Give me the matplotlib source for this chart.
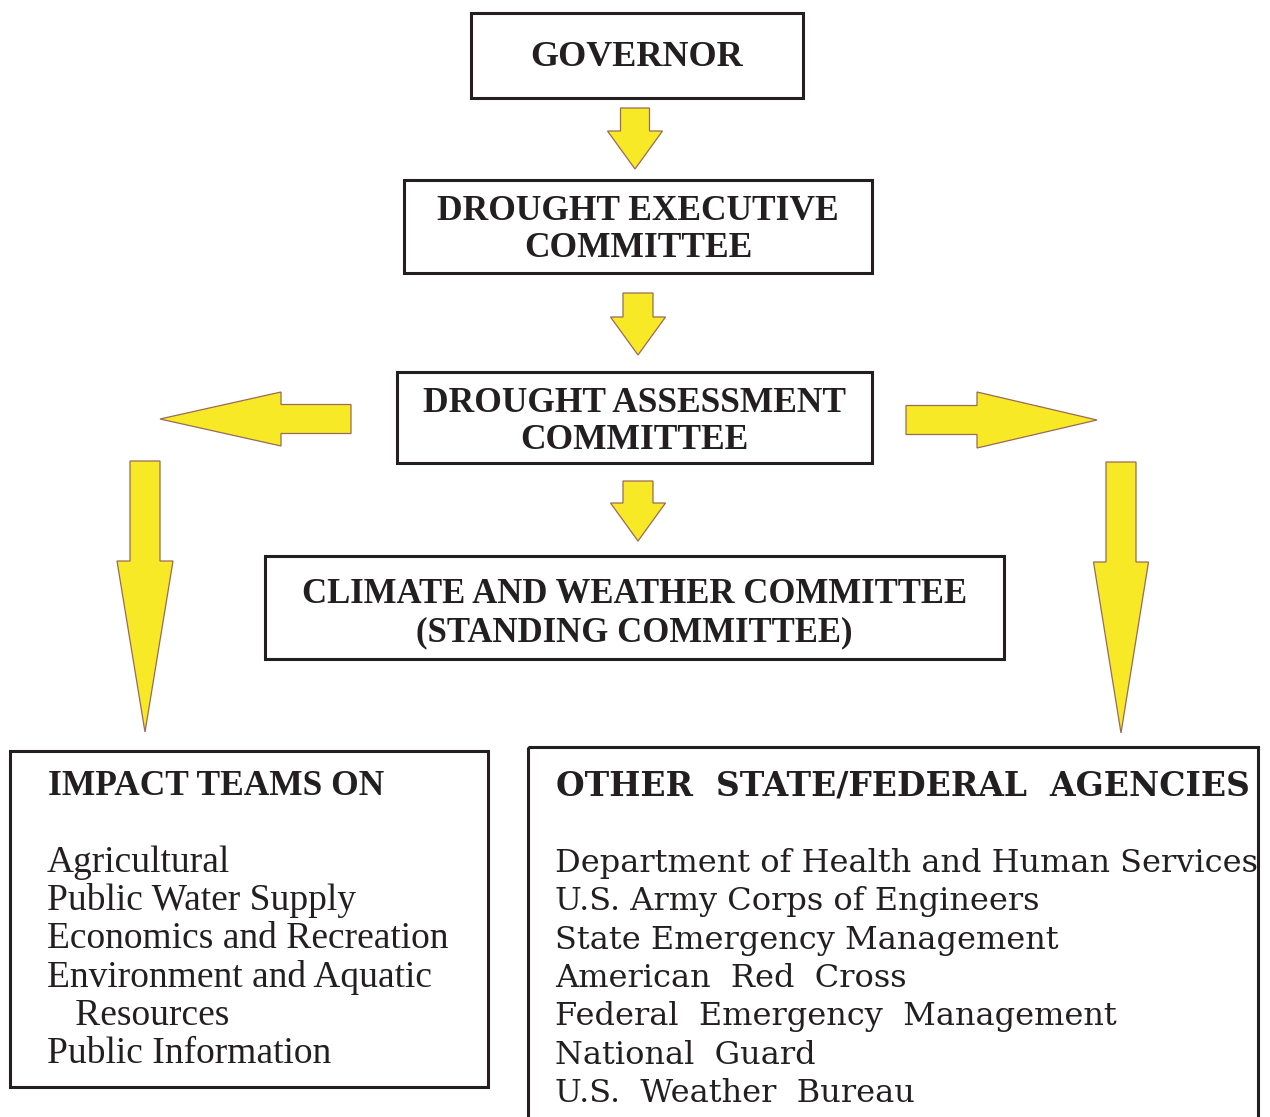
import matplotlib
matplotlib.use('Agg')
import matplotlib.pyplot as plt
from matplotlib.patches import Rectangle, Polygon

# chart content
box_titles = ['GOVERNOR',
              'DROUGHT EXECUTIVE\nCOMMITTEE',
              'DROUGHT ASSESSMENT\nCOMMITTEE',
              'CLIMATE AND WEATHER COMMITTEE\n(STANDING COMMITTEE)']
impact_title = 'IMPACT TEAMS ON'
impact_items = ['Agricultural', 'Public Water Supply', 'Economics and Recreation',
                'Environment and Aquatic', '   Resources', 'Public Information']
agency_title = 'OTHER  STATE/FEDERAL  AGENCIES'
agency_items = ['Department of Health and Human Services', 'U.S. Army Corps of Engineers',
                'State Emergency Management', 'American  Red  Cross',
                'Federal  Emergency  Management', 'National  Guard', 'U.S.  Weather  Bureau']

W, H = 1270, 1117
fig = plt.figure(figsize=(W / 100, H / 100), dpi=100)
ax = fig.add_axes([0, 0, 1, 1])
ax.set_xlim(0, W)
ax.set_ylim(H, 0)
ax.axis('off')

ink = '#231f20'
yellow = '#f7e926'
edge = '#9a6a58'
bold = dict(family=['Liberation Serif', 'DejaVu Serif'], weight='bold', color=ink)
plain = dict(family=['Liberation Serif', 'DejaVu Serif'], color=ink)

# boxes: (x0, y0, x1, y1), baselines of the lines
boxes = [(471, 13, 803, 98), (404, 180, 872, 273), (397, 372, 872, 463), (265, 556, 1004, 659)]
baselines = [[66], [220, 257], [412, 449], [603, 641]]
sizes = [26, 25.5, 25.5, 25]
for (x0, y0, x1, y1), title, bl, fs in zip(boxes, box_titles, baselines, sizes):
    ax.add_patch(Rectangle((x0, y0), x1 - x0, y1 - y0, fill=False, ec=ink, lw=2.2))
    for line, y in zip(title.split('\n'), bl):
        ax.text((x0 + x1) / 2, y, line, ha='center', va='baseline', fontsize=fs, **bold)

# lower boxes
ax.add_patch(Rectangle((10, 751), 478, 336, fill=False, ec=ink, lw=2.2))
ax.add_patch(Rectangle((528, 747), 730, 400, fill=False, ec=ink, lw=2.2))

ax.text(48, 795, impact_title, ha='left', va='baseline', fontsize=25.5, **bold)
for i, item in enumerate(impact_items):
    ax.text(47, 872 + i * 38.2, item, ha='left', va='baseline', fontsize=27, **plain)

ax.text(556, 795, agency_title, ha='left', va='baseline', fontsize=23.8,
        family=['DejaVu Serif'], weight='bold', color=ink)
for i, item in enumerate(agency_items):
    ax.text(555, 872 + i * 38.3, item, ha='left', va='baseline', fontsize=23,
            family=['DejaVu Serif'], color=ink)


def down_arrow(cx, top, base, tip, shaft_w, head_w):
    pts = [(cx - shaft_w / 2, top), (cx + shaft_w / 2, top), (cx + shaft_w / 2, base),
           (cx + head_w / 2, base), (cx, tip), (cx - head_w / 2, base), (cx - shaft_w / 2, base)]
    ax.add_patch(Polygon(pts, closed=True, fc=yellow, ec=edge, lw=0.9))


def side_arrow(tail, base, tip, cy, shaft_h, head_h):
    pts = [(tail, cy - shaft_h / 2), (base, cy - shaft_h / 2), (base, cy - head_h / 2),
           (tip, cy), (base, cy + head_h / 2), (base, cy + shaft_h / 2), (tail, cy + shaft_h / 2)]
    ax.add_patch(Polygon(pts, closed=True, fc=yellow, ec=edge, lw=0.9))


down_arrow(635, 108, 131, 169, 29, 55)
down_arrow(638, 293, 317, 355, 30, 55)
down_arrow(638, 481, 503, 541, 30, 55)
side_arrow(351, 281, 160, 419, 29, 54)
side_arrow(906, 977, 1097, 420, 29, 56)
down_arrow(145, 461, 561, 732, 30, 56)
down_arrow(1121, 462, 562, 733, 30, 55)

fig.savefig('out.png', dpi=100)
